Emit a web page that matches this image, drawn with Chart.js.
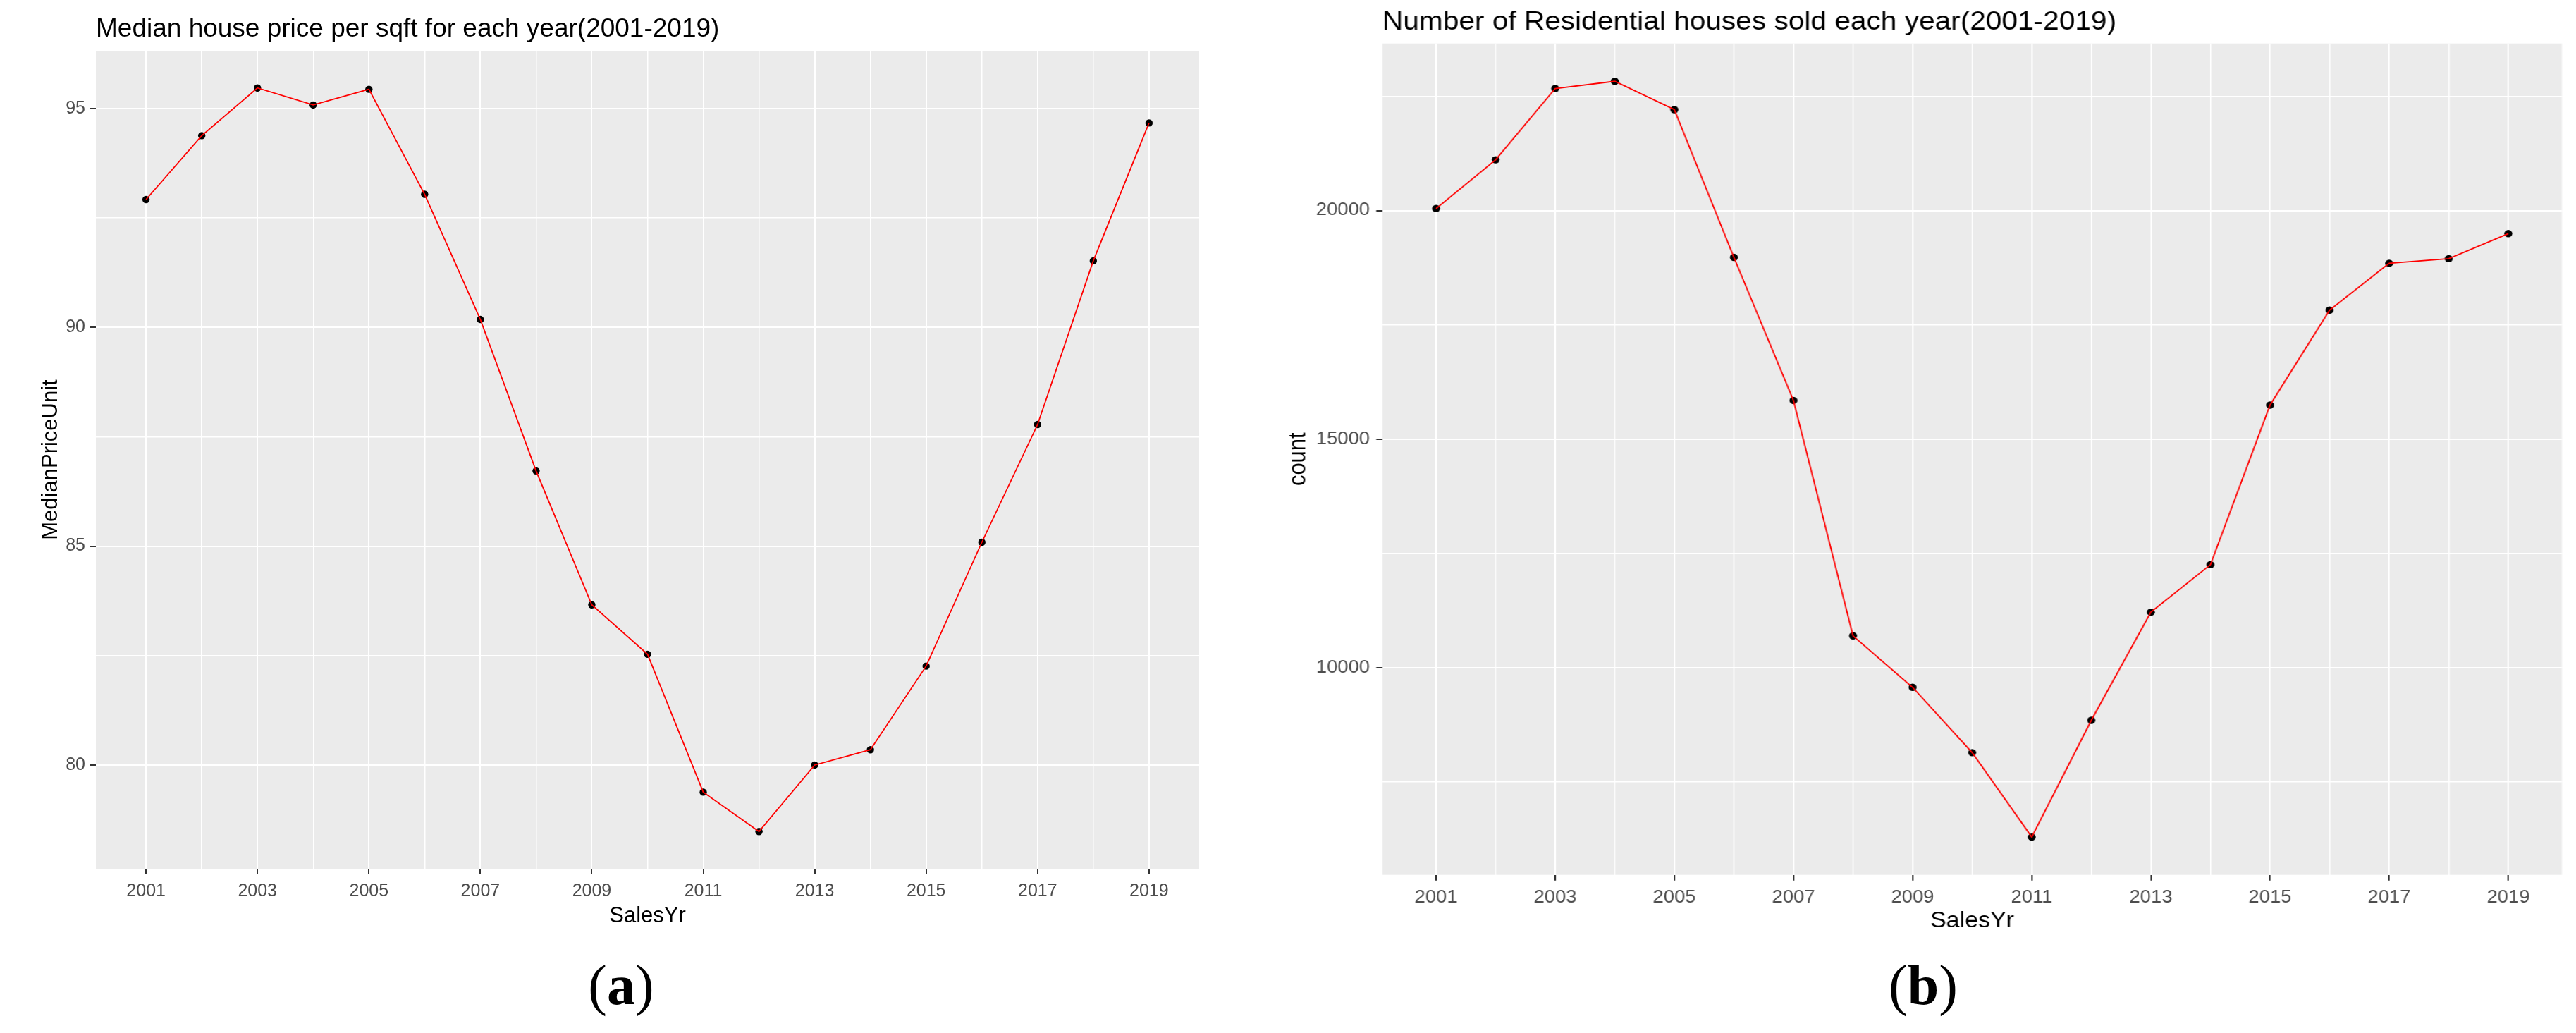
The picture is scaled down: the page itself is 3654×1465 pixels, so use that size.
<!DOCTYPE html>
<html>
<head>
<meta charset="utf-8">
<script src="https://cdn.jsdelivr.net/npm/chart.js@4.4.1/dist/chart.umd.min.js"></script>
<style>
html,body{margin:0;padding:0;background:#fff;width:3654px;height:1465px;overflow:hidden;}
canvas{display:block;}
#panelA{position:absolute;left:0;top:0;width:1760px;height:1340px;}
#panelB{position:absolute;left:1780px;top:0;width:1707px;height:1350px;transform:scaleX(1.098);transform-origin:0 0;}
.cap{position:absolute;font-family:"Liberation Serif","Times New Roman",serif;font-size:80px;line-height:1;white-space:nowrap;transform:translateX(-50%);color:#000;}
.cap b{font-weight:bold;}
</style>
</head>
<body>
<div id="panelA"><canvas id="cA" width="1760" height="1340"></canvas></div>
<div id="panelB"><canvas id="cB" width="1707" height="1350"></canvas></div>
<div class="cap" style="left:881px;top:1357px">(<b>a</b>)</div>
<div class="cap" style="left:2728px;top:1357px">(<b>b</b>)</div>
<script>
// ---- data ----
const years = [2001,2002,2003,2004,2005,2006,2007,2008,2009,2010,2011,2012,2013,2014,2015,2016,2017,2018,2019];
const medianPriceUnit = [92.92,94.38,95.47,95.08,95.44,93.04,90.18,86.72,83.66,82.53,79.38,78.48,80.00,80.35,82.26,85.09,87.78,91.52,94.67];
const salesCount = [20043,21111,22670,22828,22208,18975,15844,10693,9567,8139,6291,8846,11212,12251,15743,17821,18846,18947,19495];
const yearLabels = [2001,2003,2005,2007,2009,2011,2013,2015,2017,2019];
const priceTicks = [80,85,90,95];
const priceMinorTicks = [82.5,87.5,92.5];
const countTicks = [10000,15000,20000];
const countMinorTicks = [7500,12500,17500,22500];
const titleA = 'Median house price per sqft for each year(2001-2019)';
const titleB = 'Number of Residential houses sold each year(2001-2019)';

const FONT = '"Liberation Sans", Arial, sans-serif';

const panelBackground = {
  id: 'panelBackground',
  beforeDraw(chart) {
    const {ctx, chartArea: a} = chart;
    ctx.save();
    ctx.fillStyle = '#EBEBEB';
    ctx.fillRect(a.left, a.top, a.right - a.left, a.bottom - a.top);
    ctx.restore();
  }
};

function expand(vals, f) {
  const lo = Math.min(...vals), hi = Math.max(...vals), r = hi - lo;
  return [lo - f * r, hi + f * r];
}

function makeChart(canvas, o) {
  const pts = years.map((y, i) => ({x: y, y: o.values[i]}));
  const yAll = o.yMajor.concat(o.yMinor).sort((a, b) => a - b);
  const [yMin, yMax] = expand(o.values, 0.05);
  const [xMin, xMax] = expand(years, 0.05);
  const isMajX = v => yearLabels.includes(v);
  const isMajY = v => o.yMajor.includes(v);
  return new Chart(canvas, {
    type: 'scatter',
    data: {
      datasets: [
        {data: pts, showLine: false, pointRadius: 5.2, pointHoverRadius: 5.2, pointBackgroundColor: '#000', pointBorderWidth: 0, order: 2},
        {data: pts, showLine: true, borderColor: '#FF0000', borderWidth: 1.8, pointRadius: 0, pointHoverRadius: 0, fill: false, tension: 0, order: 1}
      ]
    },
    options: {
      responsive: false,
      animation: false,
      devicePixelRatio: 1,
      events: [],
      layout: {padding: {left: 0, top: 0, bottom: 0, right: o.padRight}},
      plugins: {
        legend: {display: false},
        tooltip: {enabled: false},
        title: {
          display: true, text: o.title, align: 'start', fullSize: false, color: '#000',
          font: {family: FONT, size: 37, weight: 'normal', lineHeight: 1.2},
          padding: {top: o.titleTop, bottom: o.titleBottom}
        }
      },
      scales: {
        x: {
          type: 'linear', min: xMin, max: xMax,
          afterFit: s => { s.height = o.xAxisH; },
          afterBuildTicks: s => { s.ticks = years.map(v => ({value: v})); },
          ticks: {
            autoSkip: false, maxRotation: 0, minRotation: 0, padding: o.xTickPad,
            color: '#4D4D4D', font: {family: FONT, size: 25},
            callback: v => isMajX(v) ? String(v) : ''
          },
          grid: {
            color: '#FFFFFF',
            lineWidth: c => (c.tick && isMajX(c.tick.value)) ? 2 : 1.5,
            tickColor: c => (c.tick && isMajX(c.tick.value)) ? '#333333' : 'rgba(0,0,0,0)',
            tickLength: 8, tickWidth: 2
          },
          border: {display: false},
          title: {display: true, text: 'SalesYr', color: '#000', font: {family: FONT, size: 31}, padding: {top: 0, bottom: o.xTitlePad}}
        },
        y: {
          type: 'linear', min: yMin, max: yMax,
          afterFit: s => { s.width = o.yAxisW; },
          afterBuildTicks: s => { s.ticks = yAll.map(v => ({value: v})); },
          ticks: {
            autoSkip: false, padding: o.yTickPad,
            color: '#4D4D4D', font: {family: FONT, size: 25},
            callback: v => isMajY(v) ? String(v) : ''
          },
          grid: {
            color: '#FFFFFF',
            lineWidth: c => (c.tick && isMajY(c.tick.value)) ? 2 : 1.5,
            tickColor: c => (c.tick && isMajY(c.tick.value)) ? '#333333' : 'rgba(0,0,0,0)',
            tickLength: 8, tickWidth: 2
          },
          border: {display: false},
          title: {display: true, text: o.yTitle, color: '#000', font: {family: FONT, size: 31}, padding: {top: o.yTitlePad, bottom: 0}}
        }
      }
    },
    plugins: [panelBackground]
  });
}

makeChart(document.getElementById('cA'), {
  values: medianPriceUnit, title: titleA, yTitle: 'MedianPriceUnit',
  yMajor: priceTicks, yMinor: priceMinorTicks,
  padRight: 59, titleTop: 20, titleBottom: 7.6,
  xAxisH: 108, xTickPad: 9, xTitlePad: 22,
  yAxisW: 136, yTickPad: 7, yTitlePad: 53.4
});

makeChart(document.getElementById('cB'), {
  values: salesCount, title: titleB, yTitle: 'count',
  yMajor: countTicks, yMinor: countMinorTicks,
  padRight: 18.5, titleTop: 9.5, titleBottom: 7.8,
  xAxisH: 109.3, xTickPad: 9.5, xTitlePad: 24.5,
  yAxisW: 164.8, yTickPad: 8.3, yTitlePad: 37.4
});
</script>
</body>
</html>
